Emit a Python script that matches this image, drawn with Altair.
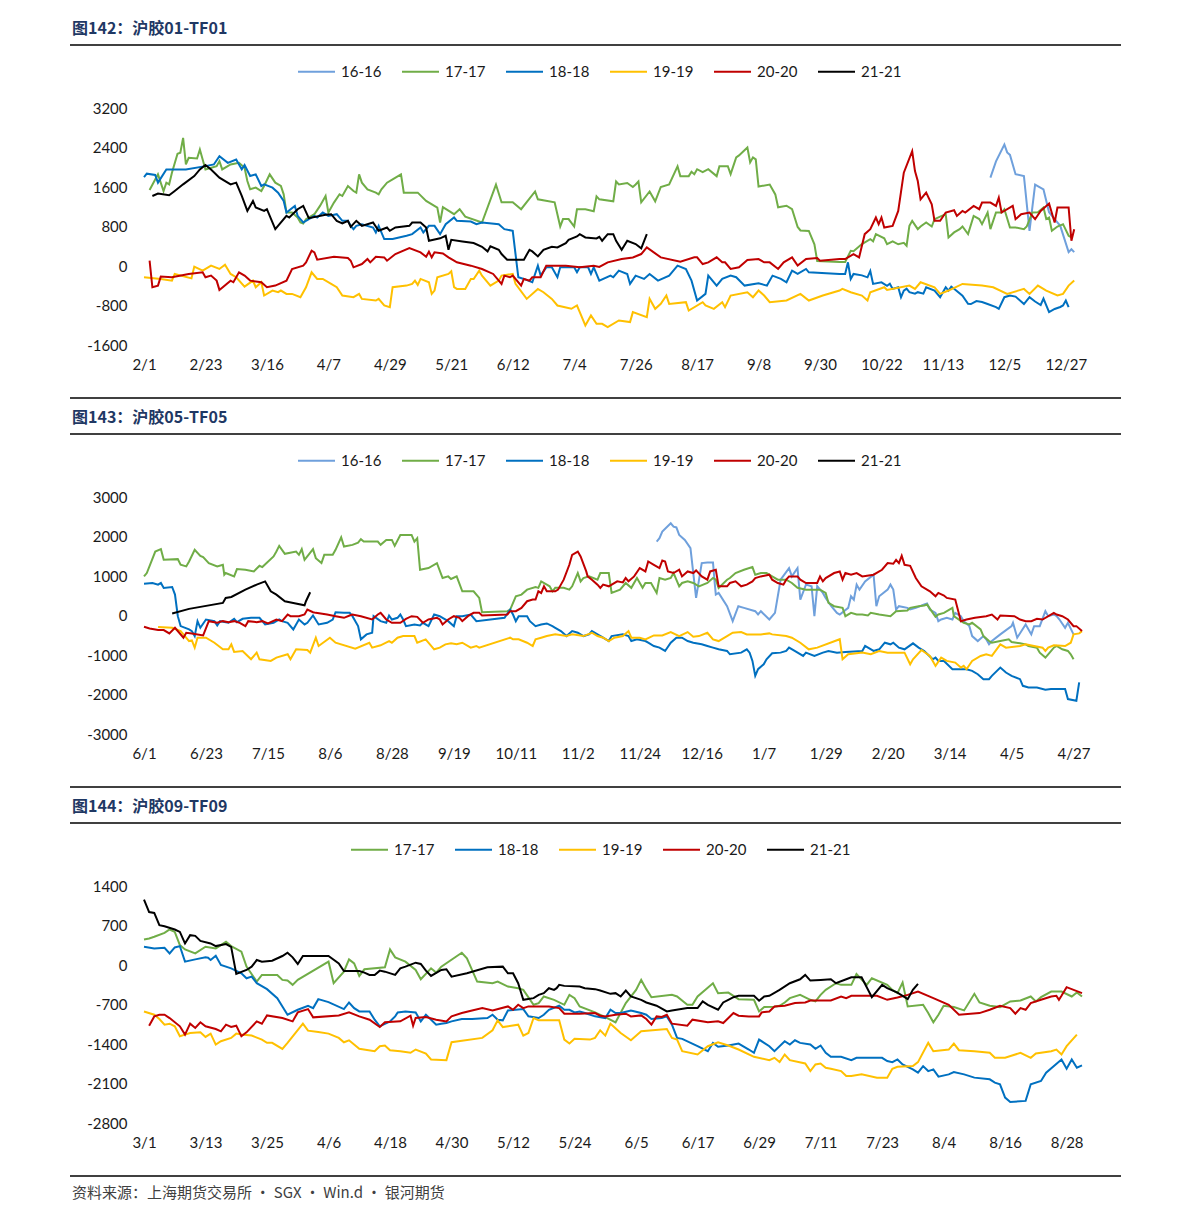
import altair as alt
import pandas as pd

FONT = "Lato"
CJK = "Noto Sans CJK SC"

NAMES = ["16-16", "17-17", "18-18", "19-19", "20-20", "21-21"]
COLORS = ["#6FA0DC", "#70AD47", "#0070C0", "#FFC000", "#C00000", "#000000"]

# ---------------- Panel 1: 沪胶01-TF01 (day index from 2/1) ----------------
P1_TITLE = "图142：沪胶01-TF01"
P1_XLABELS = ["2/1", "2/23", "3/16", "4/7", "4/29", "5/21", "6/12", "7/4", "7/26",
              "8/17", "9/8", "9/30", "10/22", "11/13", "12/5", "12/27"]
P1_XSTEP = 22
P1_XMAX = 334
P1_YTICKS = [-1600, -800, 0, 800, 1600, 2400, 3200]

P1_16 = [(303,1790),(305,2120),(308,2460),(309,2300),(310,2250),(312,1860),(315,1820),(317,710),(319,1650),(322,1550),(324,1090),(326,948),(328,813),(331,280),(332,340),(333,280)]
P1_17 = [(2,1540),(5,1856),(7,1519),(8,1688),(9,1654),(10,1890),(12,2273),(13,2293),(14,2596),(15,2057),(16,2192),(19,2178),(20,2360),(21,2158),(22,1956),(26,2023),(27,2124),(28,1956),(31,2057),(34,2090),(36,1990),(37,1721),(38,1553),(40,1587),(42,1519),(43,1620),(45,1856),(47,1688),(49,1620),(50,1452),(51,1083),(53,1083),(55,982),(56,881),(57,861),(58,948),(61,1049),(63,1217),(65,1418),(66,1083),(68,1284),(70,1452),(71,1418),(73,1620),(75,1519),(76,1486),(77,1856),(78,1688),(80,1553),(83,1486),(84,1452),(85,1553),(87,1688),(89,1755),(92,1856),(93,1486),(98,1486),(101,1318),(105,1184),(106,881),(107,1190),(111,1050),(113,1150),(115,1000),(121,880),(126,1650),(128,1290),(132,1290),(135,1150),(140,1510),(141,1350),(147,1290),(149,800),(150,950),(152,950),(154,800),(155,1150),(158,1150),(161,1110),(162,1410),(163,1350),(168,1310),(169,1710),(170,1650),(173,1680),(175,1600),(176,1650),(177,1710),(178,1290),(181,1510),(183,1310),(185,1600),(188,1650),(191,2020),(192,1820),(195,1820),(196,1910),(197,1860),(198,1960),(200,1900),(202,1960),(205,1820),(206,2020),(209,2020),(210,1860),(212,2200),(213,2240),(216,2400),(217,2100),(218,2200),(219,2160),(220,1610),(224,1650),(226,1450),(227,1190),(230,1220),(232,1150),(234,790),(235,720),(238,710),(240,440),(241,100),(249,80),(251,80),(253,309),(254,300),(257,444),(260,545),(261,500),(262,645),(265,560),(266,444),(268,500),(270,440),(272,470),(273,410),(274,813),(275,914),(277,746),(278,800),(280,880),(282,800),(283,948),(285,1000),(287,1049),(288,578),(290,680),(292,746),(293,800),(295,645),(297,1015),(299,950),(300,847),(302,1083),(303,746),(305,1083),(307,1083),(308,1150),(310,780),(312,780),(315,746),(316,800),(318,1083),(320,1090),(322,1184),(323,950),(324,980),(325,713),(327,800),(329,847),(331,612),(332,578)]
P1_18 = [(0,1802),(1,1870),(4,1843),(5,1688),(8,1956),(15,1956),(22,2023),(25,2057),(27,2225),(30,2090),(33,2158),(35,1956),(36,2044),(38,1822),(40,1856),(42,1620),(43,1654),(46,1587),(48,1486),(50,1318),(51,1083),(54,1217),(55,1015),(57,881),(61,1015),(62,982),(64,1083),(66,1015),(69,1049),(71,914),(73,914),(74,813),(75,746),(76,813),(78,847),(82,780),(83,679),(84,813),(86,545),(89,545),(94,612),(96,645),(99,780),(100,680),(102,813),(104,813),(106,645),(108,847),(111,982),(112,914),(117,900),(119,847),(121,881),(127,847),(129,746),(132,713),(133,242),(134,-228),(136,-262),(139,-329),(141,7),(142,-195),(144,-27),(146,-27),(148,-228),(149,-27),(154,-27),(155,-128),(156,-27),(159,-27),(160,-161),(161,-27),(163,-296),(167,-195),(168,-228),(170,-94),(173,-161),(174,-363),(176,-195),(179,-262),(181,-161),(184,-296),(188,-195),(191,7),(194,-60),(196,-296),(198,-699),(201,-565),(202,-195),(205,-397),(207,-262),(210,-195),(212,-228),(215,-397),(220,-350),(223,-397),(225,-195),(228,-262),(230,-329),(232,-94),(234,-161),(237,-60),(238,-128),(249,-161),(251,-160),(252,74),(253,-262),(254,-160),(257,-190),(259,-230),(260,-100),(261,-363),(264,-330),(266,-400),(267,-360),(268,-464),(270,-430),(271,-632),(272,-500),(273,-460),(274,-530),(276,-560),(277,-530),(279,-560),(280,-430),(283,-500),(285,-632),(287,-430),(288,-500),(289,-420),(290,-460),(293,-600),(295,-766),(296,-770),(298,-710),(300,-730),(302,-770),(305,-834),(306,-868),(308,-632),(310,-600),(312,-620),(314,-720),(315,-770),(317,-632),(319,-720),(321,-790),(322,-660),(324,-935),(326,-870),(328,-830),(329,-800),(330,-699),(331,-834)]
P1_19 = [(0,-228),(6,-262),(10,-296),(11,-161),(17,-250),(18,-13),(21,-94),(24,7),(27,-60),(29,27),(31,-161),(33,-228),(36,-417),(39,-296),(40,-430),(42,-329),(43,-598),(46,-497),(48,-531),(49,-497),(51,-565),(53,-565),(56,-632),(58,-430),(60,-128),(62,-262),(64,-262),(67,-363),(69,-430),(71,-598),(75,-632),(77,-565),(78,-666),(83,-699),(84,-666),(86,-800),(88,-834),(89,-430),(94,-397),(96,-363),(97,-296),(98,-383),(99,-262),(102,-329),(103,-565),(104,-497),(105,-228),(109,-161),(110,-108),(111,-430),(112,-464),(115,-464),(117,-262),(118,-262),(120,-94),(121,-195),(124,-397),(127,-296),(128,-195),(132,-161),(133,-363),(137,-666),(141,-464),(143,-531),(146,-666),(148,-800),(153,-867),(155,-800),(156,-935),(158,-1203),(160,-1002),(162,-1170),(164,-1170),(166,-1237),(170,-1103),(174,-1136),(175,-935),(180,-1035),(181,-666),(183,-867),(185,-767),(187,-598),(188,-767),(194,-733),(195,-901),(200,-733),(201,-800),(204,-867),(207,-733),(208,-834),(210,-598),(216,-531),(218,-632),(220,-497),(222,-598),(224,-733),(230,-699),(235,-565),(238,-699),(243,-598),(249,-497),(250,-464),(253,-531),(257,-598),(259,-699),(260,-531),(265,-430),(266,-484),(274,-397),(276,-464),(278,-329),(283,-430),(285,-565),(288,-497),(293,-363),(300,-397),(304,-430),(309,-565),(315,-464),(317,-565),(320,-397),(323,-497),(327,-598),(329,-565),(331,-397),(333,-296)]
P1_20 = [(2,107),(3,-430),(5,-397),(6,-215),(10,-228),(16,-161),(21,-128),(22,-228),(24,-195),(26,-296),(27,-484),(31,-296),(32,-329),(34,-128),(36,-195),(38,-296),(42,-329),(44,-430),(47,-397),(51,-296),(53,-60),(57,7),(58,74),(60,309),(61,276),(62,128),(68,188),(73,161),(74,107),(75,-27),(78,40),(80,141),(81,74),(83,188),(86,174),(87,107),(90,242),(95,363),(99,276),(101,188),(102,289),(103,175),(104,276),(107,255),(109,175),(111,107),(112,74),(117,7),(121,-60),(125,-161),(128,-363),(129,-195),(131,-228),(132,-195),(135,-397),(136,-262),(138,-296),(139,-228),(142,-228),(144,7),(151,7),(156,-27),(161,7),(163,-20),(166,74),(171,141),(175,174),(178,242),(180,376),(185,175),(192,88),(197,175),(198,175),(200,40),(202,74),(205,175),(207,74),(208,74),(210,-60),(213,-27),(216,121),(220,141),(222,74),(224,74),(227,-60),(229,74),(232,175),(234,7),(237,141),(241,161),(242,107),(249,141),(251,141),(254,242),(256,174),(258,645),(260,746),(262,982),(263,847),(264,982),(265,780),(268,813),(270,1116),(272,1890),(275,2326),(276,1923),(277,1721),(278,1351),(280,1486),(282,1251),(283,914),(285,914),(287,1083),(290,1130),(291,1015),(293,1116),(294,1083),(297,1217),(299,1150),(300,1284),(303,1284),(305,1217),(306,1385),(307,1083),(311,1217),(312,948),(314,1049),(317,1083),(319,948),(321,1116),(324,1264),(326,881),(327,1184),(331,1184),(332,511),(333,746)]
P1_21 = [(3,1418),(5,1466),(9,1432),(11,1519),(14,1654),(18,1822),(20,1956),(22,2044),(24,1956),(27,1789),(31,1654),(33,1688),(35,1418),(37,1116),(39,1318),(40,1184),(43,1116),(44,1150),(47,746),(51,1015),(52,982),(55,1150),(57,1217),(59,968),(65,1036),(67,1049),(69,914),(71,861),(73,914),(74,793),(76,914),(78,813),(82,881),(84,713),(87,780),(88,713),(90,780),(95,813),(96,881),(99,881),(101,780),(102,511),(106,560),(108,612),(109,330),(110,531),(114,497),(118,464),(121,390),(123,296),(124,400),(127,329),(128,242),(130,128),(136,128),(138,329),(139,296),(141,195),(143,329),(146,390),(148,376),(151,464),(152,531),(155,598),(156,645),(158,578),(162,558),(163,592),(164,511),(166,645),(168,645),(169,511),(171,329),(173,511),(176,444),(178,357),(180,645)]

# ---------------- Panel 2: 沪胶05-TF05 (day index from 6/1) ----------------
P2_TITLE = "图143：沪胶05-TF05"
P2_XLABELS = ["6/1", "6/23", "7/15", "8/6", "8/28", "9/19", "10/11", "11/2", "11/24",
              "12/16", "1/7", "1/29", "2/20", "3/14", "4/5", "4/27"]
P2_XSTEP = 22
P2_XMAX = 333
P2_YTICKS = [-3000, -2000, -1000, 0, 1000, 2000, 3000]

P2_16 = [(182,1871),(183,1956),(184,2123),(187,2334),(188,2249),(189,2230),(190,2040),(192,1914),(194,1704),(195,1075),(196,445),(198,1327),(200,1340),(202,1343),(202.5,906),(203,529),(204,571),(207,235),(209,-143),(211,235),(213,193),(217,109),(218,25),(219,109),(222,-101),(224,67),(226,906),(229,1201),(230,990),(232,1201),(233,403),(235,781),(237,739),(238,-17),(239,739),(241,571),(242,445),(244,235),(246,67),(247,25),(250,193),(251,487),(252,400),(253,781),(254,655),(256,864),(259,1032),(260,235),(261,487),(264,655),(265,781),(266,655),(267,151),(268,235),(271,193),(272,151),(274,193),(277,277),(278,302),(279,151),(281,67),(282,-143),(283,-101),(285,-59),(287,-101),(288,67),(290,-17),(291,-143),(293,-269),(294,-521),(296,-647),(298,-521),(299,-604),(300,-730),(301,-647),(304,-478),(308,-269),(308.5,-185),(310,-562),(313,-227),(315,-478),(316,-269),(318,-269),(320,109),(321,-17),(323,25),(324,-17),(325,-101),(327,-311),(328,-185),(330,-478)]
P2_17 = [(0,990),(1,1075),(4,1619),(6,1679),(7,1410),(12,1427),(13,1284),(15,1242),(16,1368),(18,1662),(20,1511),(21,1477),(23,1326),(26,1242),(28,1284),(28.5,1032),(29,1075),(32,990),(33,1175),(36,1158),(39,1116),(41,1259),(42,1226),(46,1494),(47,1619),(48,1763),(50,1561),(54,1619),(55,1536),(56,1679),(57,1410),(60,1679),(61,1452),(63,1326),(64,1536),(67,1536),(68,1662),(70,1981),(71,1745),(74,1788),(76,1846),(77,1931),(78,1871),(83,1871),(84,1788),(86,1914),(88,1914),(89,1763),(91,2040),(95,2040),(96,1871),(97,1956),(98,1158),(101,1201),(104,1326),(106,949),(108,990),(109,924),(111,990),(113,612),(117,612),(119,445),(120,84),(129,109),(130,151),(132,487),(134,529),(136,655),(139,722),(140,700),(141,864),(143,781),(144,739),(145,612),(146,700),(149,700),(151,655),(152,739),(154,1075),(155,864),(156,949),(158,990),(161,906),(162,1075),(165,1075),(166,571),(169,655),(171,823),(173,700),(175,949),(177,700),(178,823),(180,823),(182,571),(183,949),(185,906),(187,949),(188,1075),(190,739),(191,823),(193,864),(195,823),(197,739),(200,823),(202,949),(203,906),(204,700),(207,906),(208,949),(210,1075),(213,1158),(216,1226),(217,1032),(219,1075),(221,1075),(223,990),(225,906),(228,906),(230,823),(232,700),(235,655),(238,655),(240,655),(242,571),(243,319),(245,235),(248,193),(249,-17),(251,67),(253,25),(255,25),(257,0),(258,67),(261,25),(265,-17),(267,109),(271,126),(272,193),(275,235),(277,252),(278,277),(281,-34),(282,25),(284,67),(287,193),(287.5,-17),(291,-185),(293,-227),(294,-185),(297,-353),(298,-521),(300,-646),(301,-689),(304,-646),(307,-604),(308,-672),(311,-705),(313,-730),(314,-772),(317,-814),(318,-940),(320,-1066),(321,-982),(323,-814),(324,-772),(326,-856),(328,-898),(329,-982),(330,-1108)]
P2_18 = [(0,806),(3,823),(5,780),(6,823),(7,697),(10,722),(11,529),(12,-17),(13,-269),(16,-353),(17,-395),(18,-521),(19,-143),(20,-311),(22,-101),(25,-143),(26,-252),(27,-143),(30,-185),(32,-84),(33,-168),(35,-84),(38,-59),(41,-59),(43,-227),(46,-185),(48,-101),(49,-143),(51,-185),(53,-353),(55,-101),(57,-227),(58,-185),(60,0),(62,-227),(65,-185),(67,-101),(68,84),(71,67),(73,67),(74,-17),(76,-269),(77,-604),(79,-478),(81,-437),(81.5,-17),(84,-143),(86,-185),(87,0),(88,-101),(90,-59),(91,25),(92,-101),(93,-269),(96,-227),(98,-252),(99,-185),(101,-269),(103,25),(105,-17),(106,-59),(108,-143),(110,-269),(111,-17),(113,-17),(116,25),(118,-143),(128,-59),(130,151),(131,25),(132,-143),(133,-17),(136,-17),(137,-143),(139,-269),(141,-227),(143,-201),(145,-269),(146,-311),(148,-395),(150,-521),(152,-395),(154,-437),(156,-521),(158,-478),(159,-395),(161,-478),(163,-562),(165,-647),(166,-521),(170,-478),(172,-521),(173,-647),(175,-604),(178,-647),(179,-689),(181,-772),(183,-814),(185,-898),(187,-689),(189,-562),(191,-562),(193,-647),(195,-689),(198,-730),(200,-772),(202,-814),(204,-856),(207,-898),(208,-982),(212,-940),(214,-856),(215,-940),(216,-1150),(217,-1528),(218,-1360),(220,-1234),(221,-1108),(223,-957),(226,-940),(228,-898),(229,-814),(231,-898),(234,-1024),(235,-940),(238,-1024),(241,-940),(243,-898),(246,-940),(249,-923),(255,-898),(256,-772),(259,-898),(261,-856),(263,-689),(265,-730),(266,-689),(268,-814),(270,-856),(273,-705),(275,-814),(277,-898),(280,-1108),(281,-1066),(282,-1150),(284,-1150),(287,-1360),(290,-1360),(292,-1360),(294,-1402),(296,-1486),(298,-1612),(300,-1612),(301,-1528),(304,-1318),(306,-1444),(308,-1528),(311,-1612),(312,-1780),(314,-1822),(317,-1822),(320,-1880),(322,-1863),(327,-1863),(328,-2115),(331,-2158),(332,-1695)]
P2_19 = [(5,-294),(10,-311),(13,-395),(16,-647),(17,-630),(18,-814),(19,-562),(22,-562),(25,-689),(28,-856),(30,-856),(31,-730),(32,-923),(35,-898),(38,-1108),(40,-940),(41,-1108),(45,-1150),(47,-1066),(51,-982),(52,-1108),(54,-856),(58,-873),(59,-940),(61,-562),(62,-772),(66,-562),(68,-689),(75,-839),(80,-689),(81,-814),(84,-755),(87,-647),(88,-689),(90,-562),(92,-521),(96,-521),(97,-689),(100,-604),(103,-856),(105,-814),(107,-730),(109,-705),(111,-730),(113,-689),(116,-814),(118,-772),(119,-814),(130,-562),(131,-604),(133,-604),(136,-689),(138,-772),(139,-604),(141,-562),(143,-521),(146,-478),(150,-521),(152,-478),(156,-521),(159,-437),(161,-521),(163,-562),(165,-647),(167,-562),(170,-521),(172,-395),(173,-562),(176,-562),(178,-604),(181,-504),(184,-504),(187,-420),(190,-521),(193,-420),(195,-537),(197,-521),(200,-437),(202,-604),(204,-647),(207,-521),(209,-437),(212,-420),(214,-478),(217,-478),(219,-478),(222,-453),(223,-478),(228,-521),(230,-562),(233,-689),(236,-856),(239,-814),(247,-600),(248,-1108),(250,-982),(253,-957),(255,-940),(258,-982),(261,-898),(264,-940),(270,-940),(272,-1234),(273,-1108),(276,-873),(279,-1024),(281,-1276),(283,-1066),(285,-1150),(288,-1192),(290,-1318),(291,-1276),(292,-1360),(294,-1150),(297,-1024),(299,-982),(301,-1024),(304,-730),(306,-814),(311,-772),(313,-730),(316,-772),(319,-814),(320,-898),(321,-814),(323,-755),(327,-772),(329,-689),(330,-478),(332,-453),(333,-395)]
P2_20 = [(0,-285),(2,-327),(5,-369),(7,-369),(9,-453),(11,-311),(14,-562),(15,-437),(17,-453),(21,-504),(23,-143),(26,-185),(28,-143),(30,-168),(32,-143),(34,-185),(36,-269),(37,-143),(40,-168),(42,-143),(44,-201),(47,-101),(49,-143),(51,25),(52,-17),(55,-17),(57,25),(58,151),(60,84),(61,67),(65,25),(68,-17),(71,-59),(73,0),(74,25),(77,-17),(81,-101),(83,25),(84,67),(86,-101),(88,-185),(91,-185),(93,-84),(95,-17),(97,-34),(99,-185),(101,-101),(104,-59),(105,-101),(106,-227),(108,-101),(110,-17),(112,-59),(113,-143),(115,-17),(117,67),(119,67),(120,0),(129,25),(130,109),(132,109),(134,193),(136,361),(138,403),(139,403),(140,613),(141,571),(142,739),(143,613),(146,613),(147,655),(149,907),(151,1284),(152,1536),(154,1619),(155,1494),(157,1116),(157.5,990),(159,907),(161,781),(162,697),(163,781),(165,739),(168,864),(170,839),(171,949),(172,864),(174,990),(176,1201),(178,1116),(179,1368),(181,1284),(183,1201),(184,1393),(185,1368),(186,1116),(188,1075),(190,1158),(191,990),(193,1116),(195,1075),(196,1141),(198,990),(200,907),(201,1116),(203,1158),(204,739),(207,739),(208,823),(210,864),(212,739),(214,781),(216,864),(217,949),(219,990),(222,1032),(223,907),(225,823),(227,781),(228,907),(229,990),(232,990),(233,907),(235,823),(239,823),(240,990),(241,864),(242,949),(245,1075),(247,1116),(248,907),(249,1075),(251,1032),(253,1075),(255,990),(259,1032),(262,1158),(264,1327),(266,1309),(267,1410),(268,1327),(269,1511),(270,1284),(272,1259),(274,949),(276,739),(279,613),(281,487),(282,571),(284,504),(285,445),(288,403),(290,-143),(292,-101),(295,-59),(299,-17),(301,25),(303,-101),(304,0),(309,-17),(311,-101),(313,-143),(315,-143),(317,-84),(319,-101),(323,67),(324,25),(326,-17),(328,-101),(330,-269),(331,-269),(333,-395)]
P2_21 = [(10,50),(16,168),(28,319),(29,445),(31,470),(36,655),(40,781),(43,864),(45,613),(47,529),(50,361),(53,319),(57,260),(57.5,361),(59,588)]

# ---------------- Panel 3: 沪胶09-TF09 (day index from 3/1) ----------------
P3_TITLE = "图144：沪胶09-TF09"
P3_XLABELS = ["3/1", "3/13", "3/25", "4/6", "4/18", "4/30", "5/12", "5/24", "6/5",
              "6/17", "6/29", "7/11", "7/23", "8/4", "8/16", "8/28"]
P3_XSTEP = 12
P3_XMAX = 183
P3_YTICKS = [-2800, -2100, -1400, -700, 0, 700, 1400]

P3_17 = [(0,453),(1,470),(2,500),(4,569),(5,629),(6,587),(7,352),(8,276),(10,206),(12,323),(14,294),(16,411),(17,335),(19,235),(20,-29),(22,-294),(23,-176),(26,-176),(27,-264),(28,-276),(29,-352),(30,-264),(36,59),(37,-323),(39,-118),(40,100),(41,29),(42,-194),(43,-76),(47,-41),(48,276),(49,136),(51,59),(53,-88),(54,-253),(56,-59),(57,-135),(58,-29),(62,217),(63,118),(65,-294),(68,-323),(69,-294),(71,-382),(73,-411),(74,-441),(76,-705),(77,-675),(78,-558),(80,-617),(82,-705),(83,-529),(84,-587),(85,-734),(88,-840),(90,-922),(92,-1016),(94,-675),(96,-441),(97,-264),(98,-428),(99,-570),(103,-529),(104,-558),(106,-705),(107,-705),(108,-558),(111,-323),(112,-499),(114,-488),(115,-546),(116,-605),(119,-617),(120,-823),(121,-746),(123,-740),(124,-722),(125,-664),(126,-587),(128,-529),(130,-617),(131,-646),(132,-529),(133,-441),(135,-323),(136,-352),(138,-352),(139,-159),(141,-352),(142,-235),(145,-352),(146,-441),(147,-499),(148,-311),(149,-734),(152,-705),(153,-852),(154,-1016),(155,-881),(156,-722),(158,-746),(160,-805),(162,-511),(163,-664),(165,-722),(167,-746),(169,-646),(171,-629),(173,-558),(174,-646),(175,-570),(177,-470),(179,-470),(181,-558),(182,-488),(183,-558)]
P3_18 = [(0,323),(2,294),(4,305),(5,206),(6,311),(7,335),(8,59),(10,100),(12,136),(12.5,129),(13,88),(14,164),(15,0),(17,-59),(19,-147),(20,-235),(21,-206),(22,-323),(24,-428),(26,-587),(27,-734),(28,-881),(30,-793),(32,-722),(33,-764),(34,-605),(36,-658),(39,-781),(40,-664),(41,-764),(42,-823),(44,-823),(45,-969),(46,-1087),(48,-999),(49,-910),(49.5,-840),(51,-823),(53,-840),(54,-999),(55,-881),(57,-1057),(58,-1040),(59,-1028),(60,-999),(62,-957),(64,-957),(67,-940),(68,-881),(69,-969),(70,-981),(71,-805),(74,-781),(75,-910),(77,-940),(78,-881),(79,-793),(81,-722),(82,-793),(83,-793),(84,-840),(85,-823),(86,-852),(88,-910),(90,-940),(91,-793),(92,-852),(93,-852),(95,-805),(97,-852),(98,-881),(99,-957),(101,-940),(102,-910),(103,-1057),(104,-1292),(105,-1309),(108,-1439),(110,-1528),(111,-1380),(112,-1450),(114,-1427),(116,-1392),(118,-1498),(119,-1556),(120,-1322),(122,-1439),(123,-1528),(125,-1351),(126,-1410),(127,-1334),(128,-1380),(130,-1410),(131,-1486),(132,-1427),(133,-1556),(134,-1627),(136,-1627),(138,-1686),(139,-1645),(144,-1645),(145,-1703),(146,-1721),(147,-1674),(148,-1762),(150,-1850),(151,-1908),(152,-1792),(153,-1880),(154,-1850),(155,-1979),(157,-1938),(158,-1898),(160,-1938),(162,-1996),(165,-2026),(166,-2085),(167,-2114),(168,-2349),(169,-2426),(172,-2408),(173,-2114),(175,-2056),(176,-1908),(179,-1674),(180,-1838),(181,-1674),(182,-1820),(183,-1780)]
P3_19 = [(0,-823),(2,-881),(3,-957),(4,-1057),(5,-1040),(6,-1087),(7,-1263),(8,-1233),(9,-1204),(11,-1193),(12,-1274),(13,-1216),(14,-1410),(15,-1351),(17,-1292),(18,-1216),(19,-1233),(21,-1251),(23,-1322),(24,-1380),(25,-1380),(27,-1486),(28,-1380),(31,-1040),(32,-1163),(34,-1186),(36,-1216),(38,-1292),(39,-1369),(40,-1334),(42,-1486),(45,-1528),(46,-1439),(47,-1427),(48,-1510),(50,-1528),(52,-1556),(53,-1498),(55,-1568),(56,-1674),(59,-1686),(60,-1369),(66,-1292),(68,-1157),(69,-981),(70,-1100),(73,-1057),(74,-1251),(75,-1204),(76,-940),(77,-981),(81,-981),(82,-1322),(83,-1392),(84,-1309),(87,-1322),(88,-1292),(89,-1157),(90,-1251),(91,-1040),(93,-1204),(95,-1334),(97,-1175),(102,-1134),(103,-1292),(104,-1322),(105,-1528),(108,-1586),(110,-1439),(112,-1369),(114,-1427),(116,-1498),(119,-1627),(122,-1686),(123,-1645),(124,-1721),(125,-1586),(126,-1686),(129,-1745),(130,-1880),(131,-1762),(132,-1745),(133,-1820),(134,-1838),(136,-1880),(137,-1968),(138,-1968),(140,-1938),(143,-1996),(145,-1996),(146,-1838),(147,-1803),(150,-1792),(151,-1721),(153,-1380),(154,-1528),(157,-1498),(158,-1392),(159,-1510),(162,-1528),(165,-1556),(166,-1645),(168,-1645),(171,-1556),(173,-1645),(174,-1568),(177,-1528),(178,-1498),(179,-1586),(180,-1439),(182,-1234)]
P3_20 = [(1,-1075),(2,-911),(3,-881),(4,-881),(5,-940),(7,-1087),(8,-1233),(9,-1040),(10,-1116),(11,-1016),(12,-1087),(14,-1134),(15,-1175),(16,-1057),(17,-1098),(18,-1075),(19,-1263),(20,-1193),(22,-999),(23,-1040),(24,-893),(27,-940),(29,-999),(30,-840),(32,-781),(33,-928),(38,-893),(40,-840),(42,-911),(44,-969),(46,-1098),(47,-1016),(50,-999),(52,-899),(52.5,-1075),(53,-940),(55,-922),(57,-969),(59,-999),(60,-911),(62,-852),(66,-764),(68,-805),(71,-734),(72,-793),(73,-705),(74,-764),(75,-734),(79,-734),(81,-764),(82,-863),(85,-863),(88,-852),(89,-899),(90,-911),(92,-881),(94,-863),(95,-911),(97,-893),(98,-957),(99,-1057),(100,-911),(101,-922),(102,-881),(103,-1040),(106,-1075),(107,-969),(110,-1016),(112,-999),(113,-1028),(115,-852),(116,-899),(118,-911),(120,-911),(120.5,-840),(122,-823),(123,-734),(125,-722),(127,-675),(129,-664),(130,-629),(134,-629),(136,-558),(137,-587),(138,-546),(143,-546),(145,-617),(147,-576),(149,-529),(151,-470),(154,-587),(157,-705),(159,-881),(163,-852),(165,-793),(167,-722),(169,-764),(170,-863),(171,-764),(172,-793),(173,-675),(175,-617),(177,-558),(178,-546),(178.5,-617),(179,-546),(180,-393),(183,-499)]
P3_21 = [(0,1157),(1,939),(2,922),(3,705),(4,687),(6,629),(7,587),(8,382),(9,529),(10,517),(11,428),(13,382),(14,335),(16,370),(17,322),(18,-159),(20,-88),(21,-29),(22,88),(23,59),(25,76),(27,159),(28,217),(29,136),(30,18),(31,159),(33,159),(36,159),(38,29),(39,-106),(42,-106),(43,-135),(44,-176),(45,-176),(46,-100),(47,-118),(49,-176),(50,-59),(51,-29),(53,41),(54,18),(55,-100),(56,-194),(58,-88),(59,-76),(60,-206),(63,-147),(67,-41),(70,-29),(71,-147),(72,-147),(73,-323),(74,-617),(76,-587),(77,-529),(78,-499),(79,-411),(80,-441),(80.5,-411),(81,-352),(82,-370),(85,-382),(86,-411),(88,-428),(89,-453),(91,-511),(92,-499),(93,-558),(94,-453),(95,-558),(97,-617),(98,-664),(100,-722),(102,-823),(103,-805),(106,-764),(108,-764),(109,-646),(110,-705),(112,-793),(113,-664),(114,-617),(115,-570),(116,-546),(119,-546),(120,-634),(121,-558),(122,-546),(124,-441),(126,-323),(128,-253),(129,-176),(130,-276),(132,-264),(134,-253),(135,-323),(137,-253),(138,-218),(140,-218),(142,-570),(144,-352),(145,-411),(147,-488),(149,-605),(150,-441),(151,-335)]

SOURCE = "资料来源：上海期货交易所 · SGX · Win.d · 银河期货"


def make_df(names, series):
    rows = []
    for name, pts in zip(names, series):
        for i, (d, v) in enumerate(pts):
            rows.append({"s": name, "d": d, "v": v, "i": i})
    return pd.DataFrame(rows)


def panel(names, colors, series, title, xlabels, xstep, xmax, yticks, width, legend_x, footer=None):
    df = make_df(names, series)
    arr = "[" + ",".join("'%s'" % l for l in xlabels) + "]"
    lines = alt.Chart(df).mark_line(strokeWidth=2).encode(
        x=alt.X("d:Q",
                scale=alt.Scale(domain=[0, xmax], nice=False, zero=False),
                axis=alt.Axis(values=[k * xstep for k in range(len(xlabels))],
                              labelExpr=f"{arr}[round(datum.value/{xstep})]",
                              title=None, domain=False, ticks=False, grid=False,
                              labelFlush=False, labelOverlap=False, labelPadding=12,
                              labelFont=FONT, labelFontSize=15, labelColor="#1a1a1a")),
        y=alt.Y("v:Q",
                scale=alt.Scale(domain=[yticks[0], yticks[-1]], nice=False, zero=False),
                axis=alt.Axis(values=yticks, labelExpr="'' + datum.value",
                              title=None, domain=False, ticks=False, grid=False,
                              labelPadding=17, labelFont=FONT, labelFontSize=15,
                              labelColor="#1a1a1a")),
        color=alt.Color("s:N",
                        scale=alt.Scale(domain=names, range=colors),
                        legend=alt.Legend(orient="none", legendX=legend_x, legendY=-56,
                                          direction="horizontal", title=None,
                                          symbolType="stroke", symbolSize=1369,
                                          symbolStrokeWidth=2, labelFont=FONT,
                                          labelFontSize=15, labelColor="#1a1a1a",
                                          columnPadding=16, labelOffset=5, padding=0)),
        order="i:Q",
    )
    one = pd.DataFrame({"t": [title]})
    head = alt.Chart(one).mark_text(align="left", baseline="middle", font=CJK,
                                    fontSize=16, fontWeight="bold", color="#1F3864").encode(
        text="t:N", x=alt.value(-72), y=alt.value(-79))
    rule_top = alt.Chart(one).mark_rule(color="#000000", strokeWidth=1.3).encode(
        x=alt.value(-74), x2=alt.value(977), y=alt.value(-63))
    rule_bot = alt.Chart(one).mark_rule(color="#000000", strokeWidth=1.3).encode(
        x=alt.value(-74), x2=alt.value(977), y=alt.value(290))
    layers = [lines, head, rule_top, rule_bot]
    if footer:
        foot = alt.Chart(pd.DataFrame({"t": [footer]})).mark_text(
            align="left", baseline="middle", font=CJK, fontSize=15, color="#404040").encode(
            text="t:N", x=alt.value(-72), y=alt.value(307))
        layers.append(foot)
    return alt.layer(*layers).properties(width=width, height=237)


p1 = panel(NAMES, COLORS, [P1_16, P1_17, P1_18, P1_19, P1_20, P1_21], P1_TITLE,
           P1_XLABELS, P1_XSTEP, P1_XMAX, P1_YTICKS, 933, 153)
p2 = panel(NAMES, COLORS, [P2_16, P2_17, P2_18, P2_19, P2_20, P2_21], P2_TITLE,
           P2_XLABELS, P2_XSTEP, P2_XMAX, P2_YTICKS, 938, 153)
p3 = panel(NAMES[1:], COLORS[1:], [P3_17, P3_18, P3_19, P3_20, P3_21], P3_TITLE,
           P3_XLABELS, P3_XSTEP, P3_XMAX, P3_YTICKS, 938, 206, footer=SOURCE)

chart = alt.vconcat(p1, p2, p3, spacing=152, bounds="flush").resolve_scale(
    color="independent").resolve_legend(color="independent").properties(
    padding={"left": 61, "top": 13, "right": 10, "bottom": 10},
    background="white").configure_view(stroke=None)

chart.save("out.html", embed_options={"renderer": "svg", "actions": False})
